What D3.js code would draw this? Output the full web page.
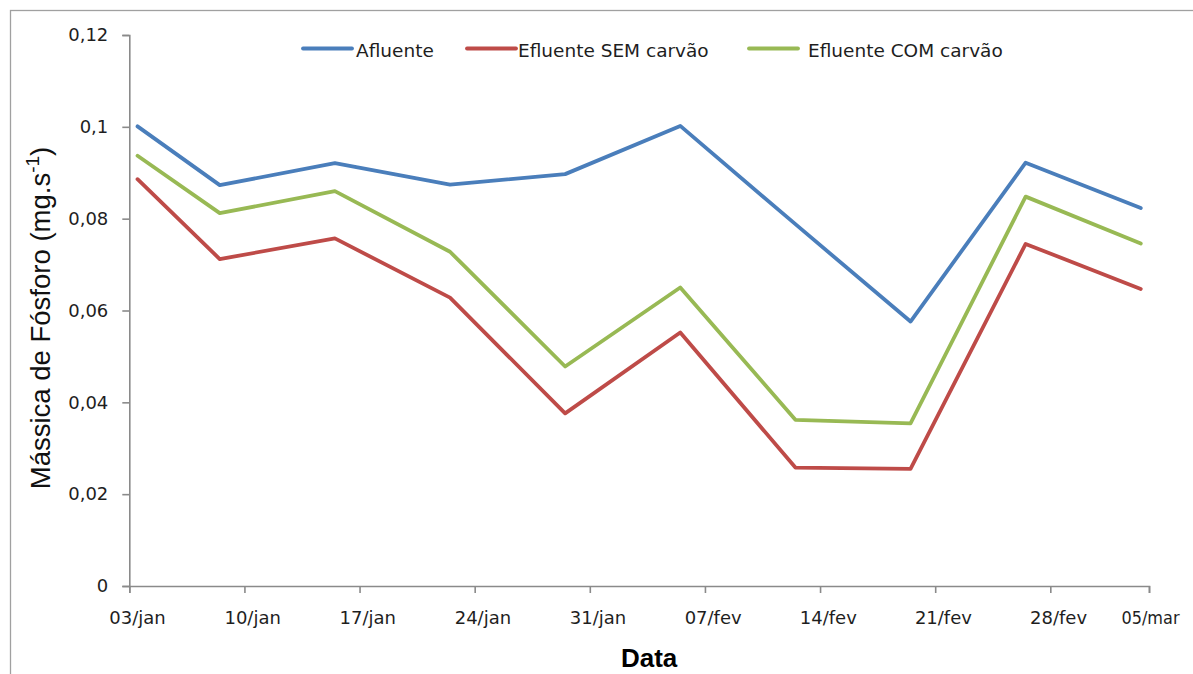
<!DOCTYPE html>
<html>
<head>
<meta charset="utf-8">
<script src="https://cdn.jsdelivr.net/npm/d3@7"></script>
<style>
  html, body { margin: 0; padding: 0; background: #fff; }
  svg { display: block; }
</style>
</head>
<body>
<svg id="chart" width="1193" height="674"></svg>
<script>
// Sampling dates (weekly collections, noon of each day)
const sampleDates = ["2012-01-03", "2012-01-08", "2012-01-15", "2012-01-22", "2012-01-29",
                     "2012-02-05", "2012-02-12", "2012-02-19", "2012-02-26", "2012-03-04"];

// Phosphorus mass flow (mg.s-1)
const afluente    = [0.1001, 0.0873, 0.0921, 0.0874, 0.0897, 0.1002, 0.0788, 0.0576, 0.0922, 0.0823];
const efluenteSem = [0.0886, 0.0712, 0.0757, 0.0628, 0.0376, 0.0552, 0.0258, 0.0255, 0.0745, 0.0647];
const efluenteCom = [0.0937, 0.0812, 0.0860, 0.0728, 0.0478, 0.0650, 0.0362, 0.0354, 0.0848, 0.0746];

const seriesNames  = ["Afluente", "Efluente SEM carvão", "Efluente COM carvão"];
const seriesColors = ["#4a7ebb", "#be4b48", "#98b954"];

// Axis ticks
const xTickDates  = ["2012-01-03", "2012-01-10", "2012-01-17", "2012-01-24", "2012-01-31",
                     "2012-02-07", "2012-02-14", "2012-02-21", "2012-02-28", "2012-03-05"];
const xTickLabels = ["03/jan", "10/jan", "17/jan", "24/jan", "31/jan",
                     "07/fev", "14/fev", "21/fev", "28/fev", "05/mar"];
const yTickValues = [0, 0.02, 0.04, 0.06, 0.08, 0.1, 0.12];
const yTickLabels = ["0", "0,02", "0,04", "0,06", "0,08", "0,1", "0,12"];

const parse = d => new Date(d + "T00:00:00Z");
const noon = d => new Date(parse(d).getTime() + 12 * 3600 * 1000);

const svg = d3.select("#chart");

// outer chart frame
svg.append("rect")
  .attr("x", 10.5).attr("y", 10.5)
  .attr("width", 1220).attr("height", 700)
  .attr("fill", "none").attr("stroke", "#a0a0a0").attr("stroke-width", 1.3);

const plot = { left: 129.3, right: 1149, top: 35, bottom: 586 };

const x = d3.scaleUtc()
  .domain([parse("2012-01-03"), parse("2012-03-05")])
  .range([plot.left, plot.right]);

const y = d3.scaleLinear()
  .domain([0, 0.12])
  .range([plot.bottom, plot.top]);

const axisColor = "#8a8a8a";
const textColor = "#1e1e1e";
const tickFont = "DejaVu Sans, Verdana, sans-serif";

// Y axis
const yAxis = d3.axisLeft(y)
  .tickValues(yTickValues)
  .tickSize(7)
  .tickPadding(14)
  .tickFormat((d, i) => yTickLabels[i]);

const gy = svg.append("g")
  .attr("transform", `translate(${plot.left},0)`)
  .call(yAxis);
gy.select(".domain").attr("stroke", axisColor).attr("stroke-width", 1.6);
gy.selectAll(".tick line").attr("stroke", axisColor).attr("stroke-width", 1.6);
gy.selectAll(".tick text")
  .attr("fill", textColor)
  .style("font-family", tickFont)
  .style("font-size", "18px");

// X axis (ticks at day boundaries, labels centred on the day)
const xAxis = d3.axisBottom(x)
  .tickValues(xTickDates.map(parse))
  .tickSize(7)
  .tickFormat("");

const gx = svg.append("g")
  .attr("transform", `translate(0,${plot.bottom})`)
  .call(xAxis);
gx.select(".domain").attr("stroke", axisColor).attr("stroke-width", 1.6);
gx.selectAll(".tick line").attr("stroke", axisColor).attr("stroke-width", 1.6);

const xLabels = svg.append("g")
  .selectAll("text")
  .data(xTickDates)
  .join("text")
  .attr("x", d => x(noon(d)))
  .attr("y", plot.bottom + 38)
  .attr("text-anchor", "middle")
  .attr("fill", textColor)
  .style("font-family", tickFont)
  .style("font-size", "18px")
  .text((d, i) => xTickLabels[i]);

// last label squeezed against the axis end
xLabels.filter((d, i) => i === xTickDates.length - 1)
  .attr("x", x(parse(xTickDates[xTickDates.length - 1])) + 1.5)
  .attr("textLength", 58)
  .attr("lengthAdjust", "spacingAndGlyphs");

// Axis titles
svg.append("text")
  .attr("x", (plot.left + plot.right) / 2 + 10)
  .attr("y", 667)
  .attr("text-anchor", "middle")
  .attr("fill", "#000")
  .style("font-family", "Liberation Sans, Arial, sans-serif")
  .style("font-weight", "bold")
  .style("font-size", "26px")
  .text("Data");

const yTitle = svg.append("text")
  .attr("transform", `translate(50,318) rotate(-90)`)
  .attr("text-anchor", "middle")
  .attr("fill", "#111")
  .style("font-family", "Liberation Sans, Arial, sans-serif")
  .style("font-size", "27.5px");
yTitle.append("tspan").text("Mássica de Fósforo (mg.s");
yTitle.append("tspan").attr("dy", -11).style("font-size", "19px").text("-1");
yTitle.append("tspan").attr("dy", 11).text(")");

// Series lines
const series = [afluente, efluenteSem, efluenteCom];
const line = d3.line()
  .x((d, i) => x(noon(sampleDates[i])))
  .y(d => y(d));

svg.append("g")
  .selectAll("path")
  .data(series)
  .join("path")
  .attr("d", d => line(d))
  .attr("fill", "none")
  .attr("stroke", (d, i) => seriesColors[i])
  .attr("stroke-width", 3.8)
  .attr("stroke-linejoin", "round")
  .attr("stroke-linecap", "round");

// Legend
const legendX = [303, 467, 749];
const legendTextX = [356, 518, 808];
const legend = svg.append("g");
seriesNames.forEach((name, i) => {
  legend.append("line")
    .attr("x1", legendX[i]).attr("x2", legendX[i] + 49)
    .attr("y1", 48.5).attr("y2", 48.5)
    .attr("stroke", seriesColors[i])
    .attr("stroke-width", 3.8)
    .attr("stroke-linecap", "round");
  legend.append("text")
    .attr("x", legendTextX[i])
    .attr("y", 56.5)
    .attr("fill", textColor)
    .style("font-family", tickFont)
    .style("font-size", "18.5px")
    .text(name);
});
</script>
</body>
</html>
